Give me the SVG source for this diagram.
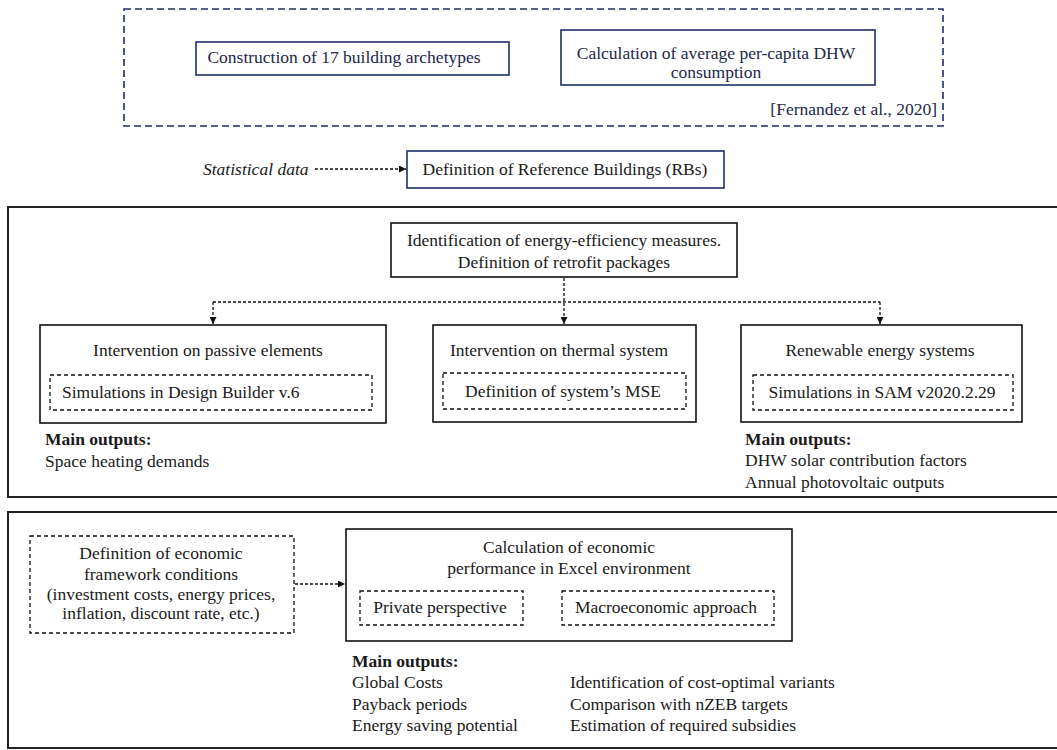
<svg xmlns="http://www.w3.org/2000/svg" width="1057" height="750" viewBox="0 0 1057 750" font-family="Liberation Serif, Times New Roman, serif">
  <style>
    text { font-size: 17.5px; fill: #1a1a1a; }
    .navy { fill: none; stroke: #1f2d66; stroke-width: 1.6; }
    .navytxt { fill: #22284a; }
    .navydash { fill: none; stroke: #1f2d66; stroke-width: 1.6; stroke-dasharray: 7 4; }
    .solid { fill: none; stroke: #111; stroke-width: 1.6; }
    .frame { fill: none; stroke: #222; stroke-width: 2; }
    .dash { fill: none; stroke: #111; stroke-width: 1.3; stroke-dasharray: 4 3; }
    .conn { fill: none; stroke: #111; stroke-width: 1.3; stroke-dasharray: 3 2; }
    .c { text-anchor: middle; }
    .b { font-weight: bold; }
    .i { font-style: italic; }
  </style>
  <defs>
    <marker id="arr" viewBox="0 0 10 10" refX="10" refY="5" markerWidth="7" markerHeight="7" markerUnits="userSpaceOnUse" orient="auto">
      <path d="M0,0 L10,5 L0,10 z" fill="#111"/>
    </marker>
  </defs>

  <!-- Top dashed frame -->
  <g id="archetypes-frame">
    <rect class="navydash" x="124" y="9" width="819" height="117"/>
    <text class="navytxt" x="937" y="115" text-anchor="end">[Fernandez et al., 2020]</text>
  </g>
  <g id="archetypes">
    <rect class="navy" x="196" y="42" width="313" height="33"/>
    <text class="c navytxt" x="344" y="63">Construction of 17 building archetypes</text>
  </g>
  <g id="dhw">
    <rect class="navy" x="561" y="30" width="314" height="55"/>
    <text class="c navytxt" x="716" y="59">Calculation of average per-capita DHW</text>
    <text class="c navytxt" x="716" y="78">consumption</text>
  </g>

  <g id="statistical">
    <text class="i" x="203" y="175">Statistical data</text>
  </g>
  <g id="reference-buildings">
    <rect class="navy" x="407" y="151" width="317" height="37"/>
    <text class="c" x="565" y="175">Definition of Reference Buildings (RBs)</text>
  </g>

  <!-- Middle section -->
  <g id="section-measures">
    <rect class="frame" x="8" y="207" width="1060" height="290"/>
  </g>
  <g id="identification">
    <rect class="solid" x="391" y="223" width="346" height="54"/>
    <text class="c" x="564" y="246">Identification of energy-efficiency measures.</text>
    <text class="c" x="564" y="268">Definition of retrofit packages</text>
  </g>
  <g id="passive">
    <rect class="solid" x="40" y="325" width="346" height="98"/>
    <text class="c" x="208" y="356">Intervention on passive elements</text>
    <rect class="dash" x="50" y="375" width="322" height="35"/>
    <text x="62" y="398">Simulations in Design Builder v.6</text>
    <text class="b" x="45" y="445">Main outputs:</text>
    <text x="45" y="467">Space heating demands</text>
  </g>
  <g id="thermal">
    <rect class="solid" x="433" y="325" width="263" height="97"/>
    <text class="c" x="559" y="356">Intervention on thermal system</text>
    <rect class="dash" x="443" y="373" width="243" height="36"/>
    <text class="c" x="563" y="397">Definition of system’s MSE</text>
  </g>
  <g id="renewable">
    <rect class="solid" x="741" y="325" width="281" height="97"/>
    <text class="c" x="880" y="356">Renewable energy systems</text>
    <rect class="dash" x="753" y="375" width="260" height="35"/>
    <text class="c" x="882" y="398">Simulations in SAM v2020.2.29</text>
    <text class="b" x="745" y="445">Main outputs:</text>
    <text x="745" y="466">DHW solar contribution factors</text>
    <text x="745" y="488">Annual photovoltaic outputs</text>
  </g>

  <!-- Bottom section -->
  <g id="section-economic">
    <rect class="frame" x="8" y="512" width="1060" height="236"/>
  </g>
  <g id="framework">
    <rect class="dash" x="30" y="536" width="264" height="97"/>
    <text class="c" x="161" y="559">Definition of economic</text>
    <text class="c" x="161" y="580">framework conditions</text>
    <text class="c" x="161" y="600">(investment costs, energy prices,</text>
    <text class="c" x="161" y="619">inflation, discount rate, etc.)</text>
  </g>
  <g id="economic">
    <rect class="solid" x="346" y="529" width="446" height="112"/>
    <text class="c" x="569" y="553">Calculation of economic</text>
    <text class="c" x="569" y="574">performance in Excel environment</text>
    <rect class="dash" x="360" y="591" width="163" height="34"/>
    <text class="c" x="440" y="613">Private perspective</text>
    <rect class="dash" x="562" y="591" width="212" height="34"/>
    <text class="c" x="666" y="613">Macroeconomic approach</text>
    <text class="b" x="352" y="667">Main outputs:</text>
    <text x="352" y="688">Global Costs</text>
    <text x="352" y="710">Payback periods</text>
    <text x="352" y="731">Energy saving potential</text>
    <text x="570" y="688">Identification of cost-optimal variants</text>
    <text x="570" y="710">Comparison with nZEB targets</text>
    <text x="570" y="731">Estimation of required subsidies</text>
  </g>

  <!-- Connectors -->
  <g id="connectors">
    <line class="conn" x1="315" y1="169" x2="406" y2="169" marker-end="url(#arr)"/>
    <line class="conn" x1="564" y1="278" x2="564" y2="324" marker-end="url(#arr)"/>
    <line class="conn" x1="213" y1="302" x2="880" y2="302"/>
    <line class="conn" x1="213" y1="302" x2="213" y2="324" marker-end="url(#arr)"/>
    <line class="conn" x1="880" y1="302" x2="880" y2="324" marker-end="url(#arr)"/>
    <line class="conn" x1="295" y1="584" x2="345" y2="584" marker-end="url(#arr)"/>
  </g>
</svg>
